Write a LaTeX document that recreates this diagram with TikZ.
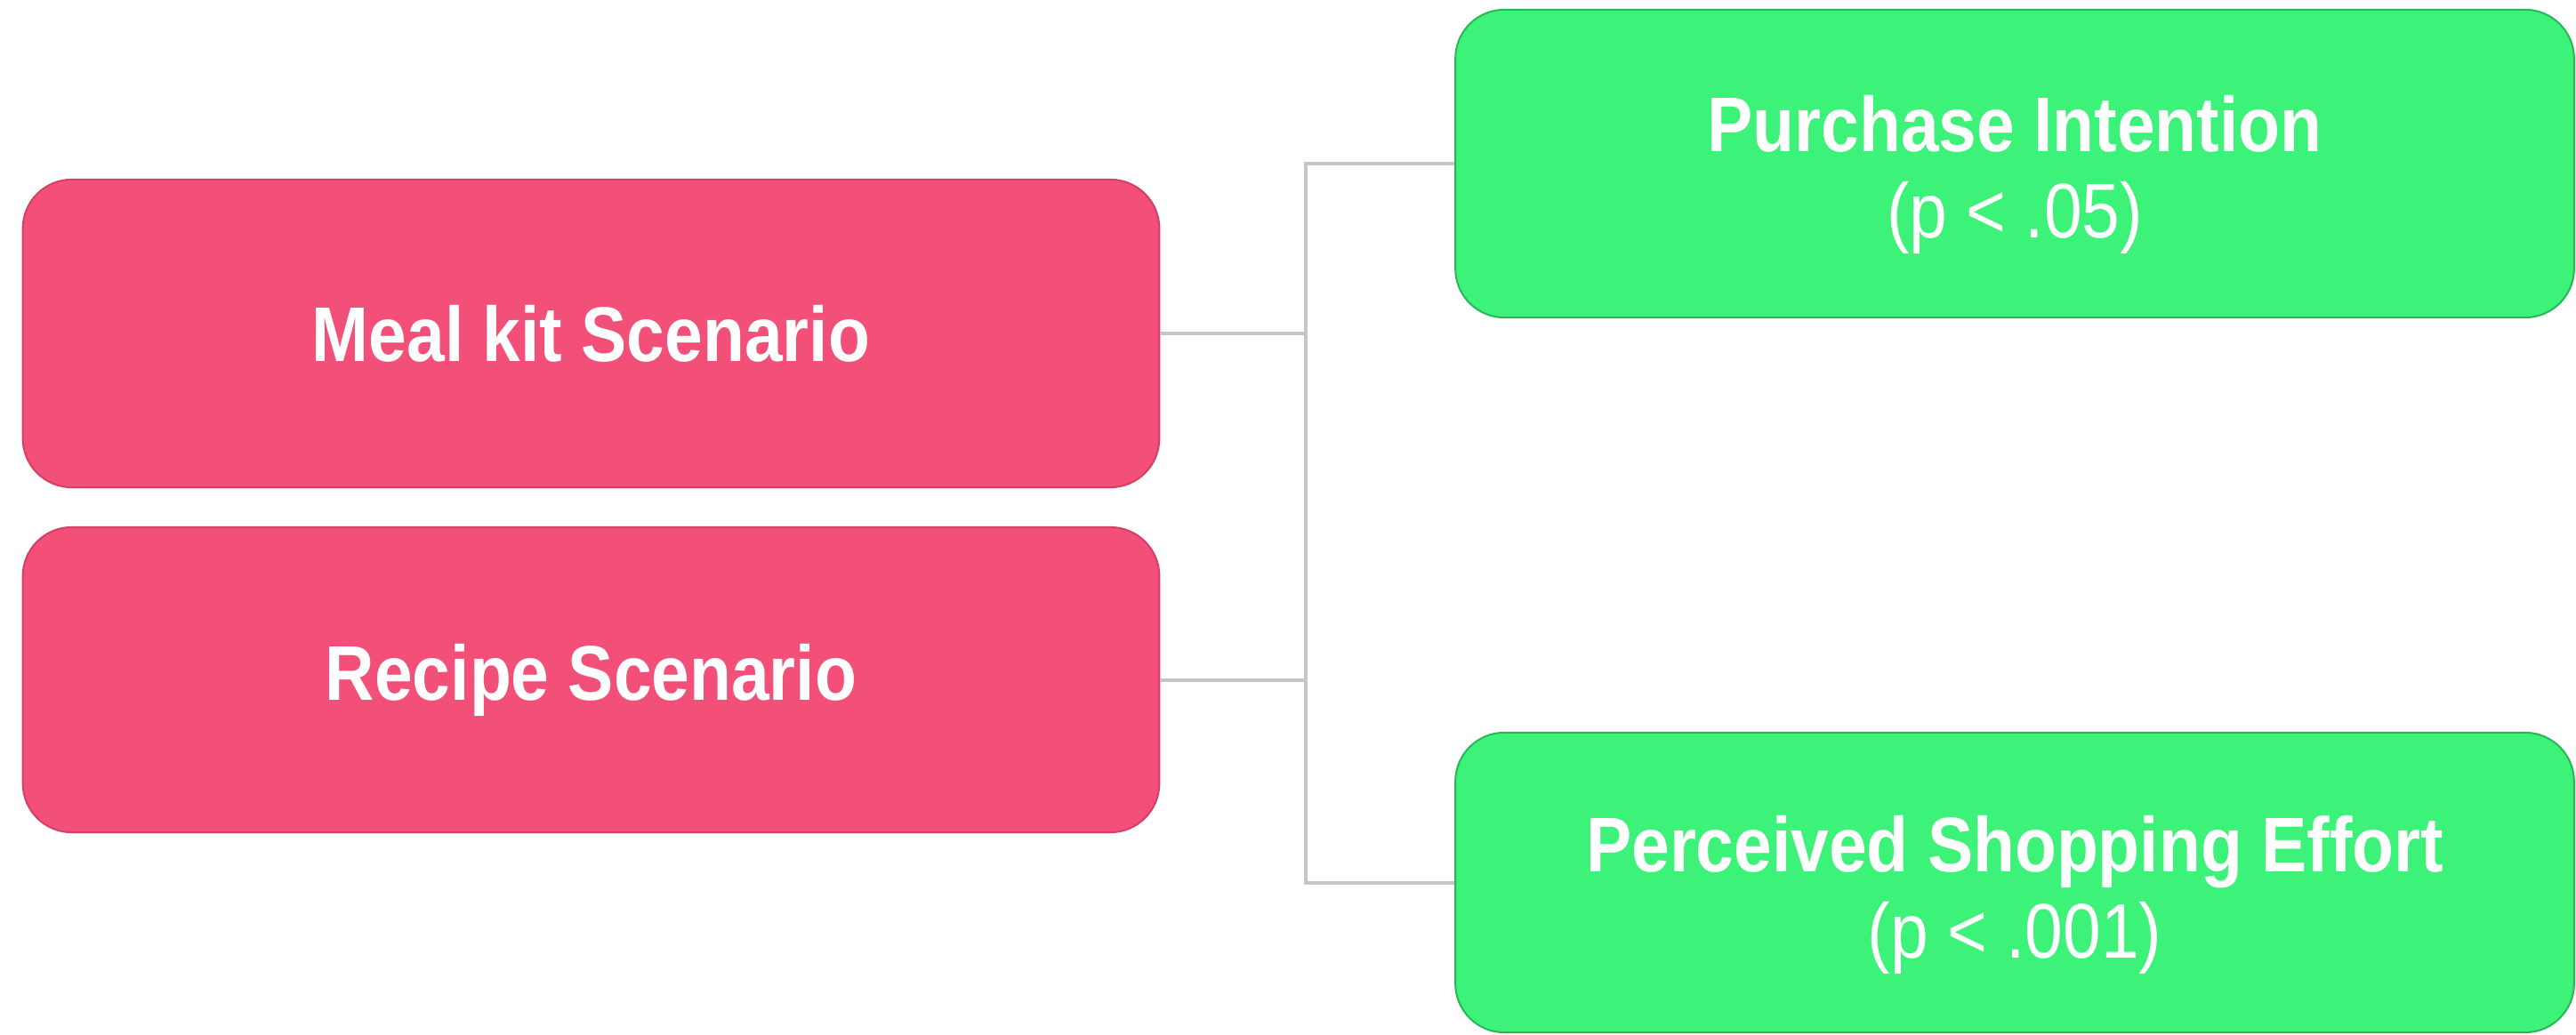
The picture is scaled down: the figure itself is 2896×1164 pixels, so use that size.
\documentclass[tikz,border=0pt]{standalone}
\usepackage{fontspec}
\setmainfont{Liberation Sans}[FakeStretch=0.88]
\definecolor{pinkfill}{HTML}{F24F79}
\definecolor{pinkline}{HTML}{D63F69}
\definecolor{greenfill}{HTML}{3DF279}
\definecolor{greenline}{HTML}{28B757}
\definecolor{connc}{HTML}{C6C6C6}
\tikzset{
  scen/.style={draw=pinkline, fill=pinkfill, line width=0.02cm, rounded corners=0.55cm,
    minimum width=12.77cm, text=white, align=center, inner sep=0pt,
    font=\fontsize{24.8pt}{27.6pt}\selectfont\bfseries},
  outc/.style={draw=greenline, fill=greenfill, line width=0.02cm, rounded corners=0.55cm,
    minimum width=12.57cm, inner sep=0pt},
  outtext/.style={text=white, align=center, inner sep=0pt,
    font=\fontsize{24.8pt}{27.6pt}\selectfont},
  conn/.style={draw=connc, line width=0.04cm}
}
\begin{document}
\begin{tikzpicture}[x=0.01cm, y=-0.01cm]
\useasboundingbox (0,0) rectangle (2896,1164);
\fill[white] (0,0) rectangle (2896,1164);
\coordinate (elbow) at (1468,0);
\node[scen, minimum height=3.46cm] (meal) at (664.5,375) {Meal kit Scenario};
\node[scen, minimum height=3.43cm] (recipe) at (664.5,764.5) {Recipe Scenario};
\node[outc, minimum height=3.46cm] (pi) at (2265,184) {};
\node[outc, minimum height=3.37cm] (pse) at (2265,992.5) {};
\node[outtext] (piT) at ([yshift=-0.12cm]pi.center) {\textbf{Purchase Intention}\\(p < .05)};
\node[outtext] (pseT) at ([yshift=-0.14cm]pse.center) {\textbf{Perceived Shopping Effort}\\(p < .001)};
\draw[conn] (meal.east) -- (meal.east -| elbow) |- (pi.west);
\draw[conn] (meal.east) -- (meal.east -| elbow) |- (pse.west);
\draw[conn] (recipe.east) -- (recipe.east -| elbow) |- (pi.west);
\draw[conn] (recipe.east) -- (recipe.east -| elbow) |- (pse.west);
\end{tikzpicture}
\end{document}
